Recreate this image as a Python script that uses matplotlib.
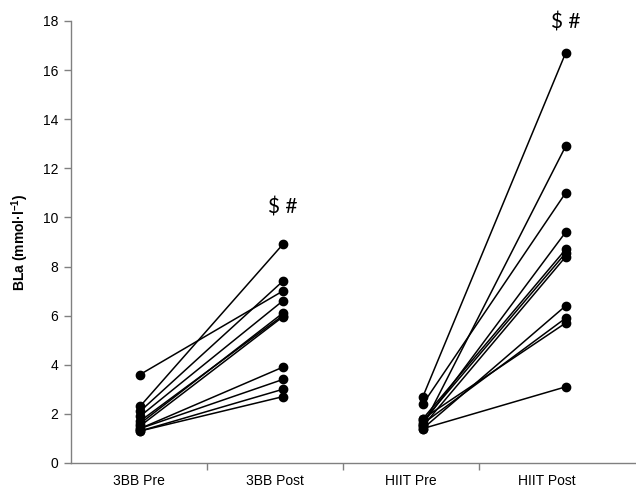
import matplotlib
matplotlib.use("Agg")
import matplotlib.pyplot as plt
from matplotlib.ticker import FixedLocator

plt.rcParams['font.family'] = ['Liberation Sans', 'DejaVu Sans']
plt.rcParams['mathtext.fontset'] = 'custom'
plt.rcParams['mathtext.rm'] = 'Liberation Sans'
plt.rcParams['mathtext.bf'] = 'Liberation Sans:bold'

categories = ["3BB Pre", "3BB Post", "HIIT Pre", "HIIT Post"]
bb_pre = [3.6, 2.3, 2.1, 1.9, 1.7, 1.6, 1.5, 1.4, 1.4, 1.3, 1.3]
bb_post = [7.0, 8.9, 7.4, 6.6, 6.0, 6.1, 5.95, 3.9, 3.4, 3.0, 2.7]
hiit_pre = [2.7, 1.5, 2.4, 1.6, 1.8, 1.7, 1.5, 1.4, 1.6, 1.8, 1.4]
hiit_post = [16.7, 12.9, 11.0, 9.4, 8.7, 8.55, 8.4, 6.4, 5.9, 5.7, 3.1]
annotations = ["$ #", "$ #"]
yticks = [0, 2, 4, 6, 8, 10, 12, 14, 16, 18]

# x positions (layout)
point_x = [0.51, 1.56, 2.59, 3.64]
label_x = [0.5, 1.5, 2.5, 3.5]

fig = plt.figure(figsize=(6.36, 4.93), dpi=100)
ax = fig.add_axes([0.111, 0.0609, 0.889, 0.8966])

for a, b in zip(bb_pre, bb_post):
    ax.plot([point_x[0], point_x[1]], [a, b], color='black', lw=1.1,
            marker='o', ms=6, mfc='black', mec='black', zorder=3)
for a, b in zip(hiit_pre, hiit_post):
    ax.plot([point_x[2], point_x[3]], [a, b], color='black', lw=1.1,
            marker='o', ms=6, mfc='black', mec='black', zorder=3)

ax.set_xlim(0, 4.157)
ax.set_ylim(0, 18)
ax.set_yticks(yticks)
ax.set_xticks(label_x)
ax.set_xticklabels(categories, fontsize=10)
ax.xaxis.set_minor_locator(FixedLocator([1, 2, 3]))
ax.tick_params(axis='x', which='major', length=0, pad=8)
ax.tick_params(axis='x', which='minor', length=5, width=1, color='#808080', direction='out')
ax.tick_params(axis='y', length=5, width=1, color='#808080', labelsize=10, pad=4)

for s in ['top', 'right']:
    ax.spines[s].set_visible(False)
for s in ['left', 'bottom']:
    ax.spines[s].set_color('#808080')
    ax.spines[s].set_linewidth(1.0)

ax.set_ylabel(r'BLa (mmol·l$^{\mathbf{-1}}$)', fontsize=10, fontweight='bold', labelpad=8)

ax.text(point_x[1], 10.4, annotations[0], ha='center', va='center',
        fontsize=15, family=['Lato', 'DejaVu Sans'])
ax.text(point_x[3], 17.95, annotations[1], ha='center', va='center',
        fontsize=15, family=['Lato', 'DejaVu Sans'], clip_on=False)

fig.savefig("out.png", dpi=100)
